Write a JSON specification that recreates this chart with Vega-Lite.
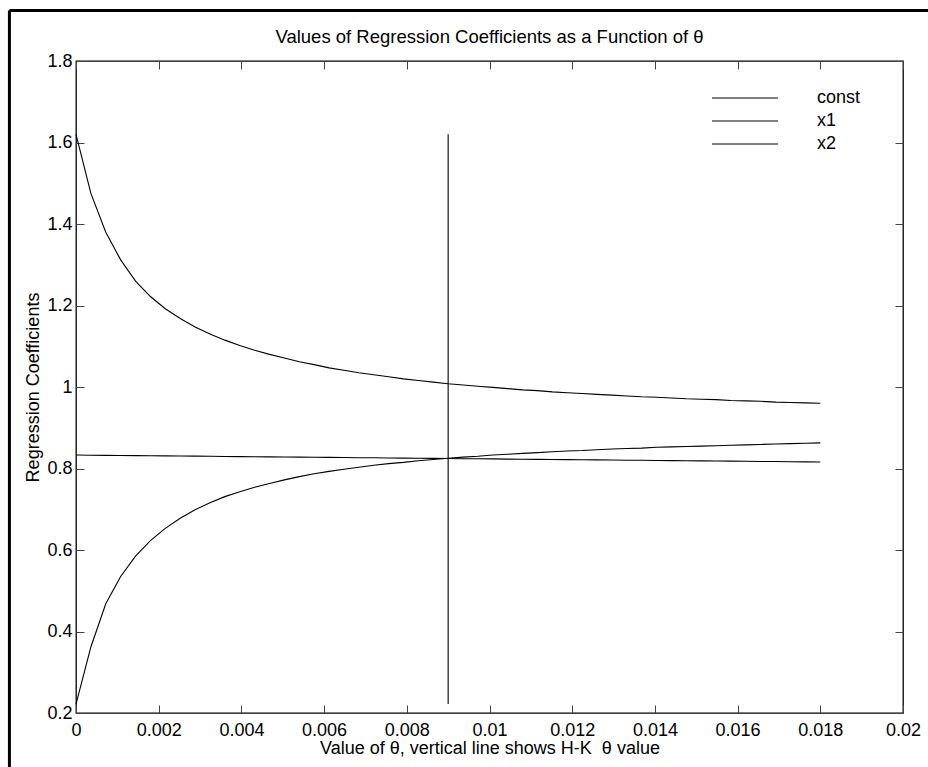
{
  "$schema": "https://vega.github.io/schema/vega-lite/v6.json",
  "width": 827,
  "height": 652,
  "autosize": {"type": "none"},
  "padding": {"left": 76, "top": 61, "right": 25, "bottom": 54},
  "background": "white",
  "config": {
    "font": "Liberation Sans",
    "view": {"stroke": "black", "strokeWidth": 1.3},
    "axis": {
      "domain": false,
      "grid": false,
      "tickColor": "#444",
      "tickSize": -8,
      "labelColor": "black",
      "labelFontSize": 18,
      "titleColor": "black",
      "titleFontSize": 18,
      "titleFontWeight": "normal"
    }
  },
  "title": {
    "text": "Values of Regression Coefficients as a Function of θ",
    "fontSize": 18.5,
    "fontWeight": "normal",
    "color": "black",
    "offset": 0,
    "baseline": "alphabetic",
    "dy": 53
  },
  "datasets": {
    "coef": [
      {"theta": 0, "const": 1.620, "x1": 0.8330, "x2": 0.222},
      {"theta": 0.00036, "const": 1.475, "x1": 0.8327, "x2": 0.362},
      {"theta": 0.00072, "const": 1.380, "x1": 0.8323, "x2": 0.468},
      {"theta": 0.00108, "const": 1.312, "x1": 0.8320, "x2": 0.535},
      {"theta": 0.00144, "const": 1.260, "x1": 0.8316, "x2": 0.585},
      {"theta": 0.0018, "const": 1.222, "x1": 0.8313, "x2": 0.623},
      {"theta": 0.00216, "const": 1.192, "x1": 0.8309, "x2": 0.653},
      {"theta": 0.00252, "const": 1.168, "x1": 0.8306, "x2": 0.678},
      {"theta": 0.00288, "const": 1.147, "x1": 0.8303, "x2": 0.699},
      {"theta": 0.00324, "const": 1.130, "x1": 0.8299, "x2": 0.716},
      {"theta": 0.0036, "const": 1.115, "x1": 0.8296, "x2": 0.731},
      {"theta": 0.00396, "const": 1.102, "x1": 0.8292, "x2": 0.743},
      {"theta": 0.00432, "const": 1.090, "x1": 0.8289, "x2": 0.754},
      {"theta": 0.00468, "const": 1.080, "x1": 0.8286, "x2": 0.763},
      {"theta": 0.00504, "const": 1.071, "x1": 0.8282, "x2": 0.772},
      {"theta": 0.0054, "const": 1.062, "x1": 0.8279, "x2": 0.780},
      {"theta": 0.00576, "const": 1.055, "x1": 0.8275, "x2": 0.787},
      {"theta": 0.00612, "const": 1.047, "x1": 0.8272, "x2": 0.793},
      {"theta": 0.00648, "const": 1.041, "x1": 0.8269, "x2": 0.798},
      {"theta": 0.00684, "const": 1.035, "x1": 0.8265, "x2": 0.803},
      {"theta": 0.0072, "const": 1.030, "x1": 0.8262, "x2": 0.808},
      {"theta": 0.00756, "const": 1.025, "x1": 0.8258, "x2": 0.812},
      {"theta": 0.00792, "const": 1.020, "x1": 0.8255, "x2": 0.815},
      {"theta": 0.00828, "const": 1.016, "x1": 0.8252, "x2": 0.819},
      {"theta": 0.00864, "const": 1.012, "x1": 0.8248, "x2": 0.822},
      {"theta": 0.009, "const": 1.008, "x1": 0.8245, "x2": 0.825},
      {"theta": 0.00936, "const": 1.005, "x1": 0.8241, "x2": 0.828},
      {"theta": 0.00972, "const": 1.002, "x1": 0.8238, "x2": 0.830},
      {"theta": 0.01008, "const": 0.999, "x1": 0.8235, "x2": 0.833},
      {"theta": 0.01044, "const": 0.996, "x1": 0.8231, "x2": 0.835},
      {"theta": 0.0108, "const": 0.993, "x1": 0.8228, "x2": 0.837},
      {"theta": 0.01116, "const": 0.991, "x1": 0.8224, "x2": 0.839},
      {"theta": 0.01152, "const": 0.988, "x1": 0.8221, "x2": 0.841},
      {"theta": 0.01188, "const": 0.986, "x1": 0.8218, "x2": 0.843},
      {"theta": 0.01224, "const": 0.984, "x1": 0.8214, "x2": 0.844},
      {"theta": 0.0126, "const": 0.982, "x1": 0.8211, "x2": 0.846},
      {"theta": 0.01296, "const": 0.980, "x1": 0.8207, "x2": 0.848},
      {"theta": 0.01332, "const": 0.978, "x1": 0.8204, "x2": 0.849},
      {"theta": 0.01368, "const": 0.976, "x1": 0.8201, "x2": 0.850},
      {"theta": 0.01404, "const": 0.975, "x1": 0.8197, "x2": 0.852},
      {"theta": 0.0144, "const": 0.973, "x1": 0.8194, "x2": 0.853},
      {"theta": 0.01476, "const": 0.971, "x1": 0.8190, "x2": 0.854},
      {"theta": 0.01512, "const": 0.970, "x1": 0.8187, "x2": 0.855},
      {"theta": 0.01548, "const": 0.969, "x1": 0.8184, "x2": 0.856},
      {"theta": 0.01584, "const": 0.967, "x1": 0.8180, "x2": 0.857},
      {"theta": 0.0162, "const": 0.966, "x1": 0.8177, "x2": 0.858},
      {"theta": 0.01656, "const": 0.965, "x1": 0.8173, "x2": 0.859},
      {"theta": 0.01692, "const": 0.963, "x1": 0.8170, "x2": 0.860},
      {"theta": 0.01728, "const": 0.962, "x1": 0.8167, "x2": 0.861},
      {"theta": 0.01764, "const": 0.961, "x1": 0.8163, "x2": 0.862},
      {"theta": 0.018, "const": 0.960, "x1": 0.8160, "x2": 0.863}
    ],
    "hk": [{"theta": 0.009, "lo": 0.222, "hi": 1.62}]
  },
  "layer": [
    {
      "data": {"name": "coef"},
      "transform": [{"fold": ["const", "x1", "x2"], "as": ["series", "value"]}],
      "mark": {"type": "line", "strokeWidth": 1.1},
      "encoding": {
        "x": {
          "field": "theta",
          "type": "quantitative",
          "scale": {"domain": [0, 0.02], "nice": false, "zero": false},
          "axis": {
            "orient": "bottom",
            "values": [0, 0.002, 0.004, 0.006, 0.008, 0.01, 0.012, 0.014, 0.016, 0.018, 0.02],
            "format": "~g",
            "labelPadding": 16,
            "labelFlush": false,
            "title": "Value of θ, vertical line shows H-K\u00a0 θ value",
            "titlePadding": 0
          }
        },
        "y": {
          "field": "value",
          "type": "quantitative",
          "scale": {"domain": [0.2, 1.8], "nice": false, "zero": false},
          "axis": {
            "orient": "left",
            "values": [0.2, 0.4, 0.6, 0.8, 1, 1.2, 1.4, 1.6, 1.8],
            "format": "~g",
            "labelPadding": 12,
            "labelFlush": false,
            "title": "Regression Coefficients",
            "titleX": -43,
            "titleAngle": -90,
            "titleAlign": "center",
            "titleBaseline": "middle"
          }
        },
        "color": {
          "field": "series",
          "type": "nominal",
          "scale": {"domain": ["const", "x1", "x2"], "range": ["black", "black", "black"]},
          "legend": {
            "orient": "none",
            "legendX": 660,
            "legendY": 28,
            "padding": 0,
            "title": null,
            "symbolType": "M-5.5,0H5.5",
            "symbolSize": 144,
            "symbolStrokeWidth": 1,
            "symbolStrokeColor": "black",
            "symbolFillColor": "transparent",
            "labelOffset": 63,
            "labelFontSize": 18,
            "labelColor": "black",
            "rowPadding": 5
          }
        }
      }
    },
    {
      "data": {"name": "hk"},
      "mark": {"type": "rule", "color": "black", "strokeWidth": 1.1},
      "encoding": {
        "x": {
          "field": "theta",
          "type": "quantitative",
          "axis": {
            "orient": "top",
            "values": [0, 0.002, 0.004, 0.006, 0.008, 0.01, 0.012, 0.014, 0.016, 0.018, 0.02],
            "labels": false,
            "title": null
          }
        },
        "y": {
          "field": "lo",
          "type": "quantitative",
          "axis": {
            "orient": "right",
            "values": [0.2, 0.4, 0.6, 0.8, 1, 1.2, 1.4, 1.6, 1.8],
            "labels": false,
            "title": null
          }
        },
        "y2": {"field": "hi"}
      }
    },
    {
      "data": {"values": [{}]},
      "mark": {"type": "rule", "color": "black", "strokeWidth": 3, "clip": false},
      "encoding": {
        "x": {"datum": -0.00161, "type": "quantitative", "axis": null},
        "y": {"datum": 1.924, "type": "quantitative", "axis": null},
        "y2": {"datum": 0.0}
      }
    },
    {
      "data": {"values": [{}]},
      "mark": {"type": "rule", "color": "black", "strokeWidth": 3, "clip": false},
      "encoding": {
        "x": {"datum": -0.00161, "type": "quantitative", "axis": null},
        "x2": {"datum": 0.0215},
        "y": {"datum": 1.924, "type": "quantitative", "axis": null}
      }
    }
  ],
  "resolve": {"axis": {"x": "independent", "y": "independent"}}
}
